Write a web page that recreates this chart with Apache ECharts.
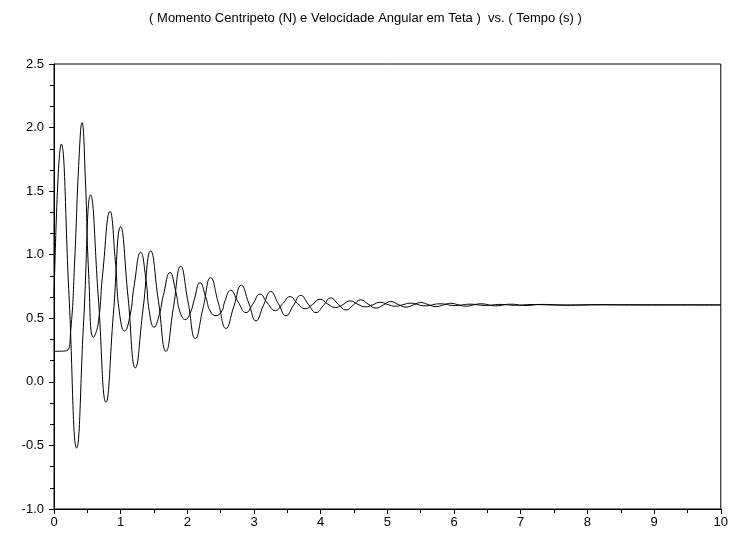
<!DOCTYPE html>
<html>
<head>
<meta charset="utf-8">
<script src="https://cdn.jsdelivr.net/npm/echarts@6/dist/echarts.min.js"></script>
<style>
  html, body { margin: 0; padding: 0; background: #fff; }
  #chart { width: 731px; height: 534px; }
</style>
</head>
<body>
<div id="chart"></div>
<script>
// titulo e eixos
var titulo = '( Momento Centripeto (N) e Velocidade Angular em Teta )  vs. ( Tempo (s) )';
var xTicks = [0, 1, 2, 3, 4, 5, 6, 7, 8, 9, 10];
var yTicks = [-1.0, -0.5, 0.0, 0.5, 1.0, 1.5, 2.0, 2.5];

// velocidade angular em teta  [tempo, valor]
var velocidade = [
    [0.00, 0.66], [0.11, 1.87], [0.225, 0.68], [0.34, -0.52], [0.445, 0.48],
    [0.55, 1.47], [0.665, 0.66], [0.78, -0.16], [0.89, 0.53], [1.00, 1.22],
    [1.11, 0.67], [1.22, 0.11], [1.335, 0.57], [1.45, 1.03], [1.565, 0.64],
    [1.68, 0.24], [1.79, 0.58], [1.90, 0.91], [2.01, 0.63], [2.12, 0.34],
    [2.235, 0.58], [2.35, 0.82], [2.465, 0.62], [2.58, 0.42], [2.695, 0.59],
    [2.81, 0.76], [2.92, 0.62], [3.03, 0.48], [3.14, 0.60], [3.25, 0.71],
    [3.365, 0.615], [3.48, 0.52], [3.59, 0.60], [3.70, 0.68], [3.815, 0.61],
    [3.93, 0.545], [4.04, 0.60], [4.15, 0.66], [4.265, 0.61], [4.38, 0.565],
    [4.49, 0.605], [4.60, 0.645], [4.715, 0.61], [4.83, 0.58], [4.94, 0.605],
    [5.05, 0.632], [5.165, 0.608], [5.28, 0.588], [5.39, 0.605], [5.50, 0.624],
    [5.615, 0.607], [5.73, 0.592], [5.84, 0.605], [5.95, 0.618], [6.065, 0.606],
    [6.18, 0.595], [6.29, 0.605], [6.40, 0.614], [6.625, 0.598], [6.85, 0.611],
    [7.08, 0.600], [7.30, 0.609], [7.75, 0.603], [8.20, 0.607], [8.70, 0.605],
    [10.0, 0.605]
];

// momento centripeto (N)  [tempo, valor]
var momento = [
    [0.00, 0.24], [0.19, 0.245], [0.25, 0.40], [0.31, 0.95], [0.37, 1.70],
    [0.42, 2.04], [0.47, 1.60], [0.52, 0.85], [0.59, 0.35], [0.66, 0.45],
    [0.73, 0.85], [0.84, 1.34], [0.92, 0.95], [0.98, 0.55], [1.06, 0.40],
    [1.14, 0.52], [1.20, 0.75], [1.30, 1.02], [1.38, 0.80], [1.43, 0.55],
    [1.50, 0.43], [1.58, 0.53], [1.64, 0.68], [1.74, 0.86], [1.83, 0.70],
    [1.89, 0.55], [1.97, 0.49], [2.05, 0.55], [2.10, 0.64], [2.19, 0.78],
    [2.28, 0.66], [2.34, 0.56], [2.43, 0.52], [2.52, 0.56], [2.56, 0.63],
    [2.65, 0.72], [2.76, 0.63], [2.88, 0.545], [2.98, 0.61], [3.09, 0.69],
    [3.20, 0.62], [3.32, 0.56], [3.43, 0.615], [3.54, 0.67], [3.655, 0.615],
    [3.77, 0.575], [3.88, 0.61], [3.99, 0.65], [4.105, 0.612], [4.22, 0.585],
    [4.33, 0.607], [4.44, 0.637], [4.555, 0.61], [4.67, 0.59], [4.78, 0.606],
    [4.89, 0.626], [5.005, 0.608], [5.12, 0.595], [5.23, 0.606], [5.34, 0.619],
    [5.57, 0.598], [5.79, 0.614], [6.02, 0.600], [6.24, 0.611], [6.47, 0.601],
    [6.69, 0.609], [6.92, 0.602], [7.14, 0.608], [7.60, 0.604], [8.10, 0.606],
    [10.0, 0.605]
];

var fonte = 'Liberation Sans, Arial, sans-serif';
var myChart = echarts.init(document.getElementById('chart'));
var option = {
    animation: false,
    title: {
        text: titulo,
        left: 'center',
        top: 7,
        textStyle: { fontFamily: fonte, fontSize: 13, fontWeight: 'normal', color: '#000' }
    },
    grid: {
        left: 54, right: 5, top: 64, bottom: 25,
        show: true, borderColor: '#000', borderWidth: 1, backgroundColor: '#fff'
    },
    xAxis: {
        type: 'value',
        min: xTicks[0], max: xTicks[xTicks.length - 1], interval: 1,
        axisLine: { onZero: false, lineStyle: { color: '#000', width: 1 } },
        axisTick: { length: 5, lineStyle: { color: '#000' } },
        minorTick: { show: true, splitNumber: 2, length: 4, lineStyle: { color: '#000' } },
        splitLine: { show: false },
        axisLabel: { color: '#000', fontFamily: fonte, fontSize: 13, margin: 7 }
    },
    yAxis: {
        type: 'value',
        min: yTicks[0], max: yTicks[yTicks.length - 1], interval: 0.5,
        axisLine: { show: true, onZero: false, lineStyle: { color: '#000', width: 1 } },
        axisTick: { show: true, length: 5, lineStyle: { color: '#000' } },
        minorTick: { show: true, splitNumber: 3, length: 4, lineStyle: { color: '#000' } },
        splitLine: { show: false },
        axisLabel: {
            color: '#000', fontFamily: fonte, fontSize: 13, margin: 10,
            formatter: function (v) { return v.toFixed(1); }
        }
    },
    series: [
        {
            name: 'Velocidade Angular em Teta',
            type: 'line',
            data: velocidade,
            smooth: 0.5,
            showSymbol: false,
            lineStyle: { color: '#000', width: 1 }
        },
        {
            name: 'Momento Centripeto (N)',
            type: 'line',
            data: momento,
            smooth: 0.5,
            showSymbol: false,
            lineStyle: { color: '#000', width: 1 }
        }
    ]
};
myChart.setOption(option);
</script>
</body>
</html>
